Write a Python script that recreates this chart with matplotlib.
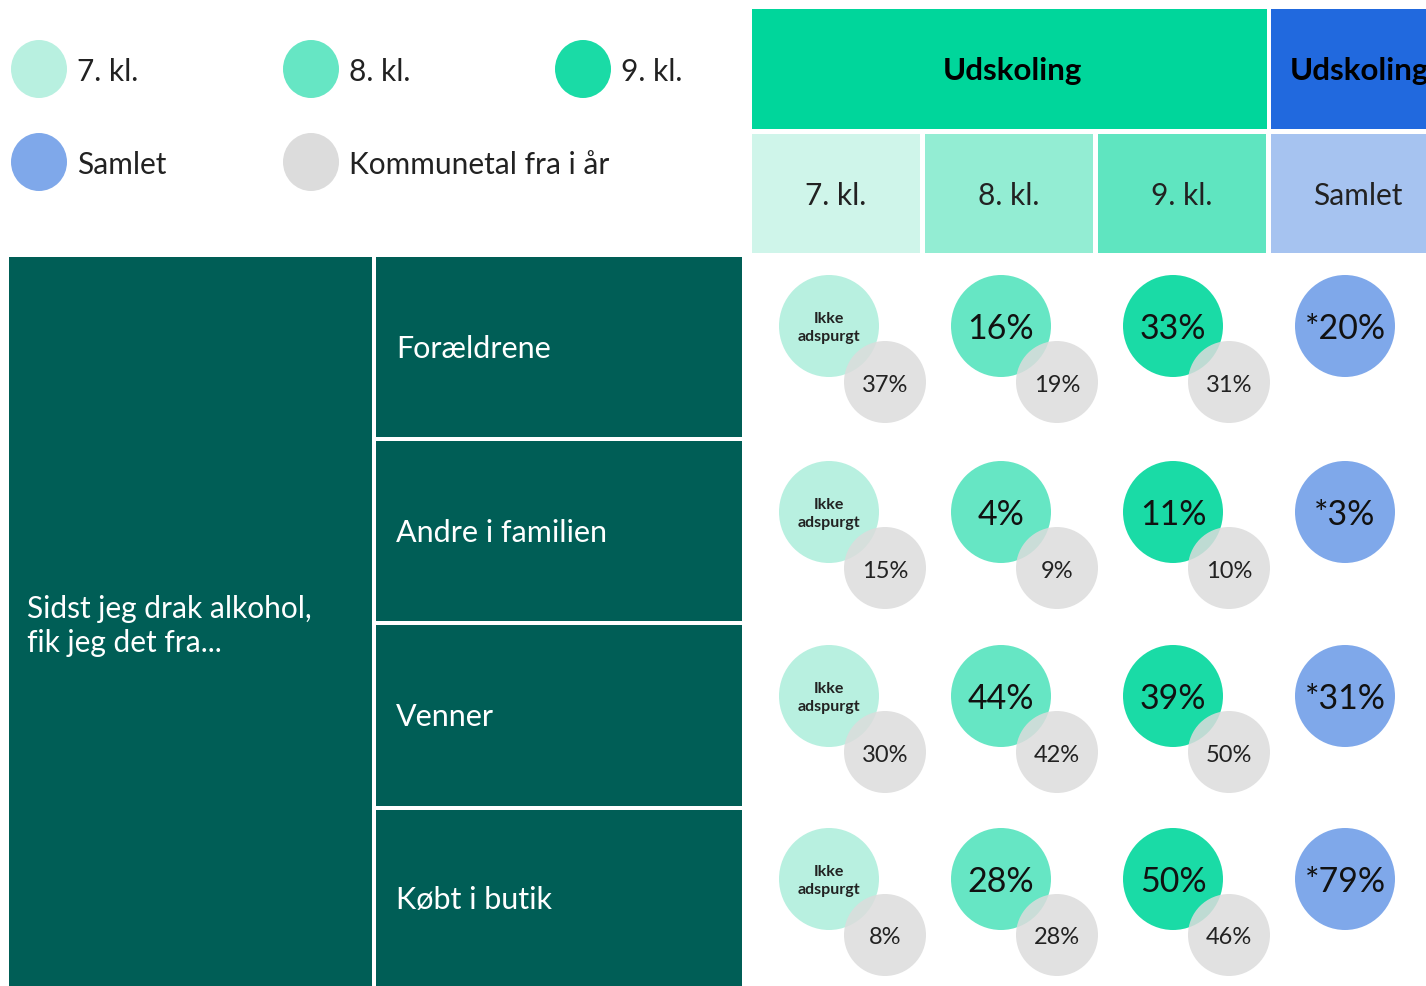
import matplotlib
matplotlib.use("Agg")
import matplotlib.pyplot as plt
from matplotlib.patches import Rectangle, Ellipse

plt.rcParams["font.family"] = ["Lato", "DejaVu Sans"]

# ---- data ----
grades = ["7. kl.", "8. kl.", "9. kl.", "Samlet"]
sources = ["Forældrene", "Andre i familien", "Venner", "Købt i butik"]
question = "Sidst jeg drak alkohol,\nfik jeg det fra..."
group_header = "Udskoling"
not_asked = "Ikke\nadspurgt"

# main values per grade (None = not asked); Samlet carries a '*' mark
val_7 = [None, None, None, None]
val_8 = [16, 4, 44, 28]
val_9 = [33, 11, 39, 50]
val_samlet = [20, 3, 31, 79]
# municipal numbers from this year (no bubble for Samlet)
kommune_7 = [37, 15, 30, 8]
kommune_8 = [19, 9, 42, 28]
kommune_9 = [31, 10, 50, 46]

legend_labels = ["7. kl.", "8. kl.", "9. kl.", "Samlet", "Kommunetal fra i år"]

# ---- styles ----
c_circle = ["#B8F0E0", "#66E6C4", "#1ADBA6", "#7FA8EA"]
c_sub = ["#CFF5EA", "#93EDD3", "#5FE5C0", "#A6C3F0"]
c_grey = "#DCDCDC"
c_dark = "#005E56"
c_head_green = "#00D69B"
c_head_blue = "#2169DE"

W, H = 1426, 987
fig = plt.figure(figsize=(W / 100, H / 100), dpi=100)
ax = fig.add_axes([0, 0, 1, 1])
ax.set_xlim(0, W)
ax.set_ylim(H, 0)
ax.axis("off")

# legend
leg_pos = [(39, 70), (311, 70), (583, 70), (39, 163), (311, 163)]
leg_cols = c_circle + [c_grey]
for (x, y), lab, col in zip(leg_pos, legend_labels, leg_cols):
    ax.add_patch(Ellipse((x, y), 56, 58, color=col, lw=0))
    ax.text(x + 38, y + 2, lab, fontsize=21.5, va="center", ha="left", color="#222222")

# header
ax.add_patch(Rectangle((752, 10), 515, 120, color=c_head_green, lw=0))
ax.text(1012, 71, group_header, fontsize=22.5, fontweight="bold", ha="center", va="center")
ax.add_patch(Rectangle((1271, 10), 160, 120, color=c_head_blue, lw=0))
ax.text(1290, 71, group_header, fontsize=22.5, fontweight="bold", ha="left", va="center",
        clip_on=True)

col_x = [752, 925, 1098, 1271]
col_w = [168, 168, 168, 160]
for x, w, lab, col in zip(col_x, col_w, grades, c_sub):
    ax.add_patch(Rectangle((x, 135), w, 119, color=col, lw=0))
    cx = 1358 if lab == "Samlet" else x + w / 2
    ax.text(cx, 196, lab, fontsize=21.5, ha="center", va="center", color="#222222")

# left panel
ax.add_patch(Rectangle((9, 258), 363, 729, color=c_dark, lw=0))
ax.text(27, 626, question, fontsize=21.5, color="white", ha="left", va="center",
        linespacing=1.25)
row_top = [258, 442, 626, 811]
row_h = [180, 180, 181, 176]
for t, h, lab in zip(row_top, row_h, sources):
    ax.add_patch(Rectangle((376, t), 366, h, color=c_dark, lw=0))
    ax.text(396, t + h / 2 + 1, lab, fontsize=22, color="white", ha="left", va="center")

# bubbles
centers_x = [829, 1001, 1173, 1345]
centers_y = [327, 513, 697, 880]
values = [val_7, val_8, val_9, val_samlet]
kommune = [kommune_7, kommune_8, kommune_9, None]
for gi, (cx, vals, kv) in enumerate(zip(centers_x, values, kommune)):
    for ri, cy in enumerate(centers_y):
        ax.add_patch(Ellipse((cx, cy), 100, 102, color=c_circle[gi], lw=0))
        if kv is not None:
            ax.add_patch(Ellipse((cx + 56, cy + 56), 82, 82, color=c_grey, lw=0,
                                 alpha=0.85))
            ax.text(cx + 56, cy + 58, f"{kv[ri]}%", fontsize=17, ha="center",
                    va="center", color="#222222")
        v = vals[ri]
        if v is None:
            ax.text(cx, cy + 1, not_asked, fontsize=11.5, fontweight="bold", ha="center",
                    va="center", linespacing=1.3, color="#222222")
        else:
            s = f"*{v}%" if gi == 3 else f"{v}%"
            ax.text(cx, cy + 2, s, fontsize=24.5, ha="center", va="center", color="#111111")

fig.savefig("out.png", dpi=100)
